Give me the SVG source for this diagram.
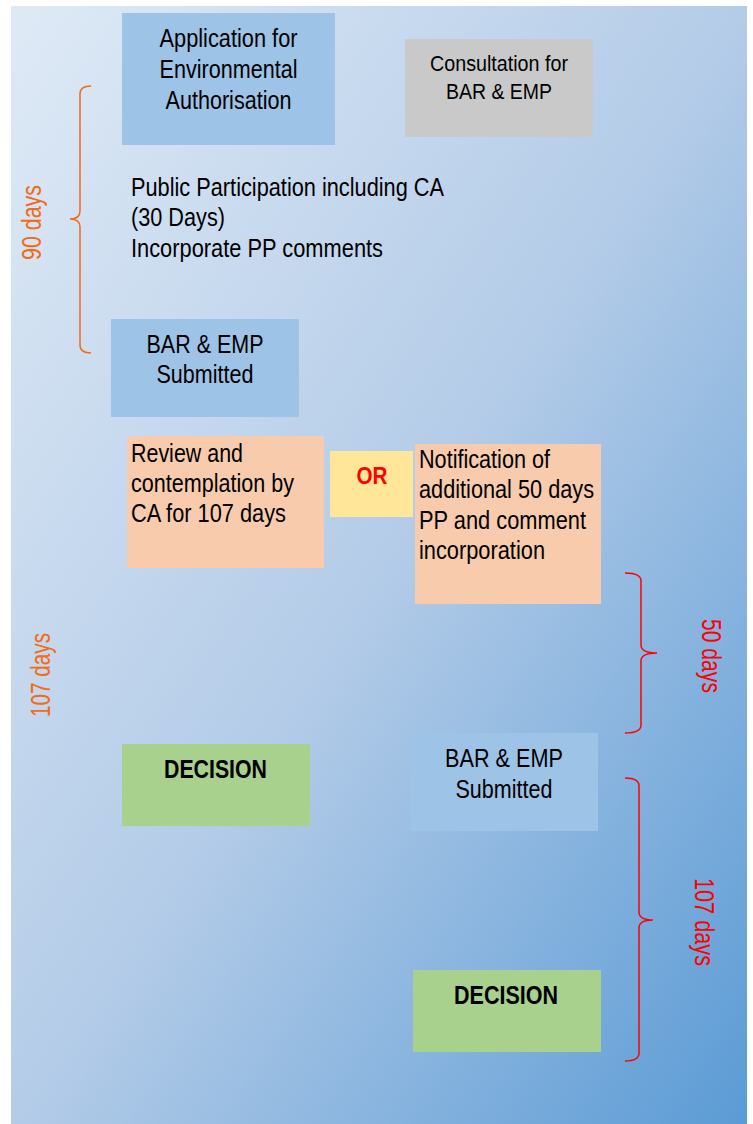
<svg xmlns="http://www.w3.org/2000/svg" width="753" height="1124" viewBox="0 0 753 1124">
  <defs>
    <linearGradient id="bg" x1="0" y1="0" x2="1" y2="1">
      <stop offset="0" stop-color="#dfeaf6"/>
      <stop offset="0.5" stop-color="#b4cce8"/>
      <stop offset="1" stop-color="#5b9bd5"/>
    </linearGradient>
    <style>
      text { font-family: "Liberation Sans", Arial, sans-serif; fill: #000; }
      .t { font-size: 25px; }
      .c { text-anchor: middle; }
      .b { font-weight: bold; }
      .blue { fill: #9dc3e6; }
      .grey { fill: #c9c9c9; }
      .peach { fill: #f8cbad; }
      .yellow { fill: #ffe699; }
      .green { fill: #a9d18e; }
      .vo { font-size: 27px; fill: #f46a16; text-anchor: middle; }
      .vr { font-size: 27px; fill: #ff0000; text-anchor: middle; }
      .brace-o { fill: none; stroke: #f46a16; stroke-width: 1.5; }
      .brace-r { fill: none; stroke: #ff0000; stroke-width: 1.5; }
    </style>
  </defs>
  <rect x="0" y="0" width="753" height="1124" fill="#ffffff"/>
  <rect x="11" y="6" width="736" height="1118" fill="url(#bg)"/>

  <g id="application">
    <rect class="blue" x="122" y="13" width="213" height="132"/>
    <text class="t c" x="228.5" y="47" textLength="138" lengthAdjust="spacingAndGlyphs">Application for</text>
    <text class="t c" x="228.5" y="78" textLength="138" lengthAdjust="spacingAndGlyphs">Environmental</text>
    <text class="t c" x="228.5" y="109" textLength="126" lengthAdjust="spacingAndGlyphs">Authorisation</text>
  </g>

  <g id="consultation">
    <rect class="grey" x="405" y="39" width="188" height="98"/>
    <text class="c" font-size="22" x="499" y="71" textLength="138" lengthAdjust="spacingAndGlyphs">Consultation for</text>
    <text class="c" font-size="22" x="499" y="99" textLength="106" lengthAdjust="spacingAndGlyphs">BAR &amp; EMP</text>
  </g>

  <g id="public-participation">
    <text class="t" x="131" y="196" textLength="313" lengthAdjust="spacingAndGlyphs">Public Participation including CA</text>
    <text class="t" x="131" y="226" textLength="94" lengthAdjust="spacingAndGlyphs">(30 Days)</text>
    <text class="t" x="131" y="257" textLength="252" lengthAdjust="spacingAndGlyphs">Incorporate PP comments</text>
  </g>

  <g id="bar-emp-1">
    <rect class="blue" x="111" y="319" width="188" height="98"/>
    <text class="t c" x="205" y="353" textLength="117" lengthAdjust="spacingAndGlyphs">BAR &amp; EMP</text>
    <text class="t c" x="205" y="383" textLength="97" lengthAdjust="spacingAndGlyphs">Submitted</text>
  </g>

  <g id="review">
    <rect class="peach" x="127" y="436" width="197" height="132"/>
    <text class="t" x="131" y="462" textLength="112" lengthAdjust="spacingAndGlyphs">Review and</text>
    <text class="t" x="131" y="492" textLength="163" lengthAdjust="spacingAndGlyphs">contemplation by</text>
    <text class="t" x="131" y="522" textLength="155" lengthAdjust="spacingAndGlyphs">CA for 107 days</text>
  </g>

  <g id="or">
    <rect class="yellow" x="330" y="451" width="83" height="66"/>
    <text class="c b" font-size="24" x="372" y="484" style="fill:#ff0000" textLength="31" lengthAdjust="spacingAndGlyphs">OR</text>
  </g>

  <g id="notification">
    <rect class="peach" x="415" y="444" width="186" height="160"/>
    <text class="t" x="419" y="468" textLength="131" lengthAdjust="spacingAndGlyphs">Notification of</text>
    <text class="t" x="419" y="498" textLength="175" lengthAdjust="spacingAndGlyphs">additional 50 days</text>
    <text class="t" x="419" y="529" textLength="167" lengthAdjust="spacingAndGlyphs">PP and comment</text>
    <text class="t" x="419" y="559" textLength="126" lengthAdjust="spacingAndGlyphs">incorporation</text>
  </g>

  <g id="decision-1">
    <rect class="green" x="122" y="744" width="188" height="82"/>
    <text class="c b" font-size="25" x="215.5" y="778" textLength="103" lengthAdjust="spacingAndGlyphs">DECISION</text>
  </g>

  <g id="bar-emp-2">
    <rect class="blue" x="410" y="733" width="188" height="98"/>
    <text class="t c" x="504" y="767" textLength="118" lengthAdjust="spacingAndGlyphs">BAR &amp; EMP</text>
    <text class="t c" x="504" y="798" textLength="97" lengthAdjust="spacingAndGlyphs">Submitted</text>
  </g>

  <g id="decision-2">
    <rect class="green" x="413" y="970" width="188" height="82"/>
    <text class="c b" font-size="25" x="506" y="1004" textLength="104" lengthAdjust="spacingAndGlyphs">DECISION</text>
  </g>

  <g id="brackets">
    <path class="brace-o" d="M91,86 Q80,86 80,94 L80,211 Q80,219 70,219 Q80,219 80,227 L80,345 Q80,353 91,353"/>
    <path class="brace-r" d="M625,573 Q641,573 641,581 L641,645 Q641,653 657,653 Q641,653 641,661 L641,725 Q641,733 625,733"/>
    <path class="brace-r" d="M625,778 Q639,778 639,786 L639,912 Q639,920 653,920 Q639,920 639,928 L639,1053 Q639,1061 625,1061"/>
  </g>

  <g id="labels">
    <text class="vo" transform="translate(41,222.5) rotate(-90)" x="0" y="0" textLength="75" lengthAdjust="spacingAndGlyphs">90 days</text>
    <text class="vo" transform="translate(50,675) rotate(-90)" x="0" y="0" textLength="84" lengthAdjust="spacingAndGlyphs">107 days</text>
    <text class="vr" transform="translate(702,656) rotate(90)" x="0" y="0" textLength="74" lengthAdjust="spacingAndGlyphs">50 days</text>
    <text class="vr" transform="translate(695,922) rotate(90)" x="0" y="0" textLength="88" lengthAdjust="spacingAndGlyphs">107 days</text>
  </g>
</svg>
